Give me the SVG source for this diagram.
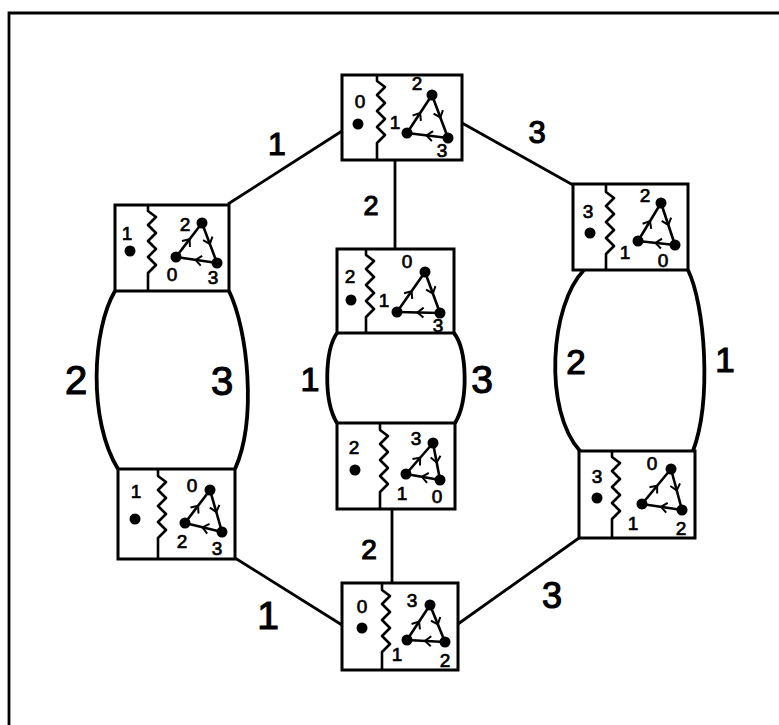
<svg xmlns="http://www.w3.org/2000/svg" width="779" height="725" viewBox="0 0 779 725">
<style>
.box{fill:#fff;stroke:#000;stroke-width:3}
.zig{fill:none;stroke:#000;stroke-width:2.6;stroke-linejoin:round}
.edge{fill:none;stroke:#000;stroke-width:2.6;marker-mid:url(#chev)}
.line{fill:none;stroke:#000;stroke-width:2.8}
.arc{fill:none;stroke:#000;stroke-width:3.8}
.big{font-family:"Liberation Sans",Arial,sans-serif;text-anchor:middle;fill:#000;stroke:#000;stroke-width:1.2}
.sm{font-family:"Liberation Sans",Arial,sans-serif;text-anchor:middle;fill:#000;stroke:#000;stroke-width:0.7;font-size:19px}
</style>
<defs>
<marker id="chev" viewBox="-8 -8 16 16" markerWidth="16" markerHeight="16" markerUnits="userSpaceOnUse" orient="auto" refX="0" refY="0">
<path d="M-5,-5 L1,0 L-5,5" fill="none" stroke="#000" stroke-width="2"/>
</marker>
</defs>
<rect x="0" y="0" width="779" height="725" fill="#fff"/>
<path class="line" d="M9,725 V13 H779" stroke-width="2"/>

<g id="connectors">
<path class="line" d="M342,131 L228,204"/>
<path class="line" d="M462,123 L573,185"/>
<path class="line" d="M395,160 V249"/>
<path class="line" d="M392,509 V583"/>
<path class="line" d="M235,558 L342,625"/>
<path class="line" d="M579,538 L458,624"/>
<path class="arc" d="M115,291 C92,330 88,420 118,469"/>
<path class="arc" d="M229,291 C248,330 257,420 235,469"/>
<path class="arc" d="M337,333 C325,350 323,400 337,423"/>
<path class="arc" d="M454,333 C467,350 469,400 455,423"/>
<path class="arc" d="M584,270 C550,305 543,410 580,451"/>
<path class="arc" d="M688,270 C705,305 712,400 693,451"/>
<text class="big" x="277" y="155" font-size="32">1</text>
<text class="big" x="537" y="143" font-size="31">3</text>
<text class="big" x="371" y="215" font-size="27">2</text>
<text class="big" x="76" y="394" font-size="40">2</text>
<text class="big" x="222" y="395" font-size="40">3</text>
<text class="big" x="310" y="391" font-size="34">1</text>
<text class="big" x="482" y="393" font-size="39">3</text>
<text class="big" x="576" y="374" font-size="35">2</text>
<text class="big" x="725" y="372" font-size="35">1</text>
<text class="big" x="369" y="559" font-size="28">2</text>
<text class="big" x="268" y="629" font-size="39">1</text>
<text class="big" x="552" y="608" font-size="36">3</text>
</g>

<g id="node-top">
<rect class="box" x="342" y="75" width="120" height="85"/>
<path class="zig" d="M377,75 V81 l8,6 l-8,8 l8,8 l-8,8 l8,8 l-8,8 l8,8 l-8,8 V160"/>
<circle cx="358" cy="124" r="5.5"/>
<text class="sm" x="360" y="108" font-size="23">0</text>
<path class="edge" d="M407,133 L419.5,114 L432,95"/>
<path class="edge" d="M432,95 L440,116.5 L448,138"/>
<path class="edge" d="M448,138 L427.5,135.5 L407,133"/>
<circle cx="407" cy="133" r="5.5"/><circle cx="432" cy="95" r="5.5"/><circle cx="448" cy="138" r="5.5"/>
<text class="sm" x="417" y="90" font-size="16">2</text>
<text class="sm" x="395" y="129">1</text>
<text class="sm" x="442" y="157">3</text>
</g>

<g id="node-left-top">
<rect class="box" x="115" y="205" width="114" height="86"/>
<path class="zig" d="M148,205 V211 l8,6 l-8,8 l8,8 l-8,8 l8,8 l-8,8 l8,8 l-8,8 V291"/>
<circle cx="130" cy="251" r="5.5"/>
<text class="sm" x="127" y="240" font-size="21">1</text>
<path class="edge" d="M176,257 L189,240 L202,223"/>
<path class="edge" d="M202,223 L209.5,243 L217,263"/>
<path class="edge" d="M217,263 L196.5,260 L176,257"/>
<circle cx="176" cy="257" r="5.5"/><circle cx="202" cy="223" r="5.5"/><circle cx="217" cy="263" r="5.5"/>
<text class="sm" x="185" y="231">2</text>
<text class="sm" x="172" y="281">0</text>
<text class="sm" x="213" y="284" font-size="21">3</text>
</g>

<g id="node-mid-top">
<rect class="box" x="337" y="249" width="117" height="84"/>
<path class="zig" d="M366,249 V255 l8,6 l-8,8 l8,8 l-8,8 l8,8 l-8,8 l8,8 l-8,8 V333"/>
<circle cx="351" cy="300" r="5.5"/>
<text class="sm" x="350" y="283" font-size="20">2</text>
<path class="edge" d="M397,312 L411,292 L425,272"/>
<path class="edge" d="M425,272 L432.5,292.5 L440,313"/>
<path class="edge" d="M440,313 L418.5,312.5 L397,312"/>
<circle cx="397" cy="312" r="5.5"/><circle cx="425" cy="272" r="5.5"/><circle cx="440" cy="313" r="5.5"/>
<text class="sm" x="407" y="268" font-size="20">0</text>
<text class="sm" x="384" y="307">1</text>
<text class="sm" x="438" y="332" font-size="16">3</text>
</g>

<g id="node-right-top">
<rect class="box" x="573" y="184" width="115" height="86"/>
<path class="zig" d="M606,184 V192 l8,6 l-8,8 l8,8 l-8,8 l8,8 l-8,8 l8,8 l-8,8 V270"/>
<circle cx="590" cy="233" r="5.5"/>
<text class="sm" x="588" y="218">3</text>
<path class="edge" d="M638,241 L649.5,222 L661,203"/>
<path class="edge" d="M661,203 L668,224 L675,245"/>
<path class="edge" d="M675,245 L656.5,243 L638,241"/>
<circle cx="638" cy="241" r="5.5"/><circle cx="661" cy="203" r="5.5"/><circle cx="675" cy="245" r="5.5"/>
<text class="sm" x="645" y="202">2</text>
<text class="sm" x="625" y="259" font-size="20">1</text>
<text class="sm" x="663" y="267">0</text>
</g>

<g id="node-left-bottom">
<rect class="box" x="118" y="469" width="117" height="90"/>
<path class="zig" d="M158,469 V476 l8,6 l-8,8 l8,8 l-8,8 l8,8 l-8,8 l8,8 l-8,8 V559"/>
<circle cx="135" cy="519" r="5.5"/>
<text class="sm" x="136" y="498" font-size="20">1</text>
<path class="edge" d="M185,523 L197.5,506.5 L210,490"/>
<path class="edge" d="M210,490 L216,511 L222,532"/>
<path class="edge" d="M222,532 L203.5,527.5 L185,523"/>
<circle cx="185" cy="523" r="5.5"/><circle cx="210" cy="490" r="5.5"/><circle cx="222" cy="532" r="5.5"/>
<text class="sm" x="192" y="492">0</text>
<text class="sm" x="182" y="548">2</text>
<text class="sm" x="217" y="555">3</text>
</g>

<g id="node-mid-bottom">
<rect class="box" x="337" y="423" width="118" height="86"/>
<path class="zig" d="M380,423 V430 l8,6 l-8,8 l8,8 l-8,8 l8,8 l-8,8 l8,8 l-8,8 V509"/>
<circle cx="355" cy="470" r="5.5"/>
<text class="sm" x="354" y="454" font-size="20">2</text>
<path class="edge" d="M406,474 L419.5,458.5 L433,443"/>
<path class="edge" d="M433,443 L436.5,461.5 L440,480"/>
<path class="edge" d="M440,480 L423,477 L406,474"/>
<circle cx="406" cy="474" r="5.5"/><circle cx="433" cy="443" r="5.5"/><circle cx="440" cy="480" r="5.5"/>
<text class="sm" x="416" y="445">3</text>
<text class="sm" x="402" y="500">1</text>
<text class="sm" x="437" y="503" font-size="20">0</text>
</g>

<g id="node-right-bottom">
<rect class="box" x="579" y="451" width="116" height="87"/>
<path class="zig" d="M612,451 V457 l8,6 l-8,8 l8,8 l-8,8 l8,8 l-8,8 l8,8 l-8,8 V538"/>
<circle cx="597" cy="498" r="5.5"/>
<text class="sm" x="597" y="483" font-size="20">3</text>
<path class="edge" d="M642,504 L656.5,486.5 L671,469"/>
<path class="edge" d="M671,469 L676.5,489.5 L682,510"/>
<path class="edge" d="M682,510 L662,507 L642,504"/>
<circle cx="642" cy="504" r="5.5"/><circle cx="671" cy="469" r="5.5"/><circle cx="682" cy="510" r="5.5"/>
<text class="sm" x="652" y="470" font-size="16">0</text>
<text class="sm" x="633" y="530">1</text>
<text class="sm" x="681" y="535">2</text>
</g>

<g id="node-bottom">
<rect class="box" x="342" y="583" width="116" height="87"/>
<path class="zig" d="M382,583 V590 l8,6 l-8,8 l8,8 l-8,8 l8,8 l-8,8 l8,8 l-8,8 V670"/>
<circle cx="362" cy="628" r="5.5"/>
<text class="sm" x="362" y="613" font-size="17">0</text>
<path class="edge" d="M407,640 L418.5,622.5 L430,605"/>
<path class="edge" d="M430,605 L437.5,623.5 L445,642"/>
<path class="edge" d="M445,642 L426,641 L407,640"/>
<circle cx="407" cy="640" r="5.5"/><circle cx="430" cy="605" r="5.5"/><circle cx="445" cy="642" r="5.5"/>
<text class="sm" x="412" y="607" font-size="20">3</text>
<text class="sm" x="397" y="661" font-size="20">1</text>
<text class="sm" x="445" y="667">2</text>
</g>
</svg>
